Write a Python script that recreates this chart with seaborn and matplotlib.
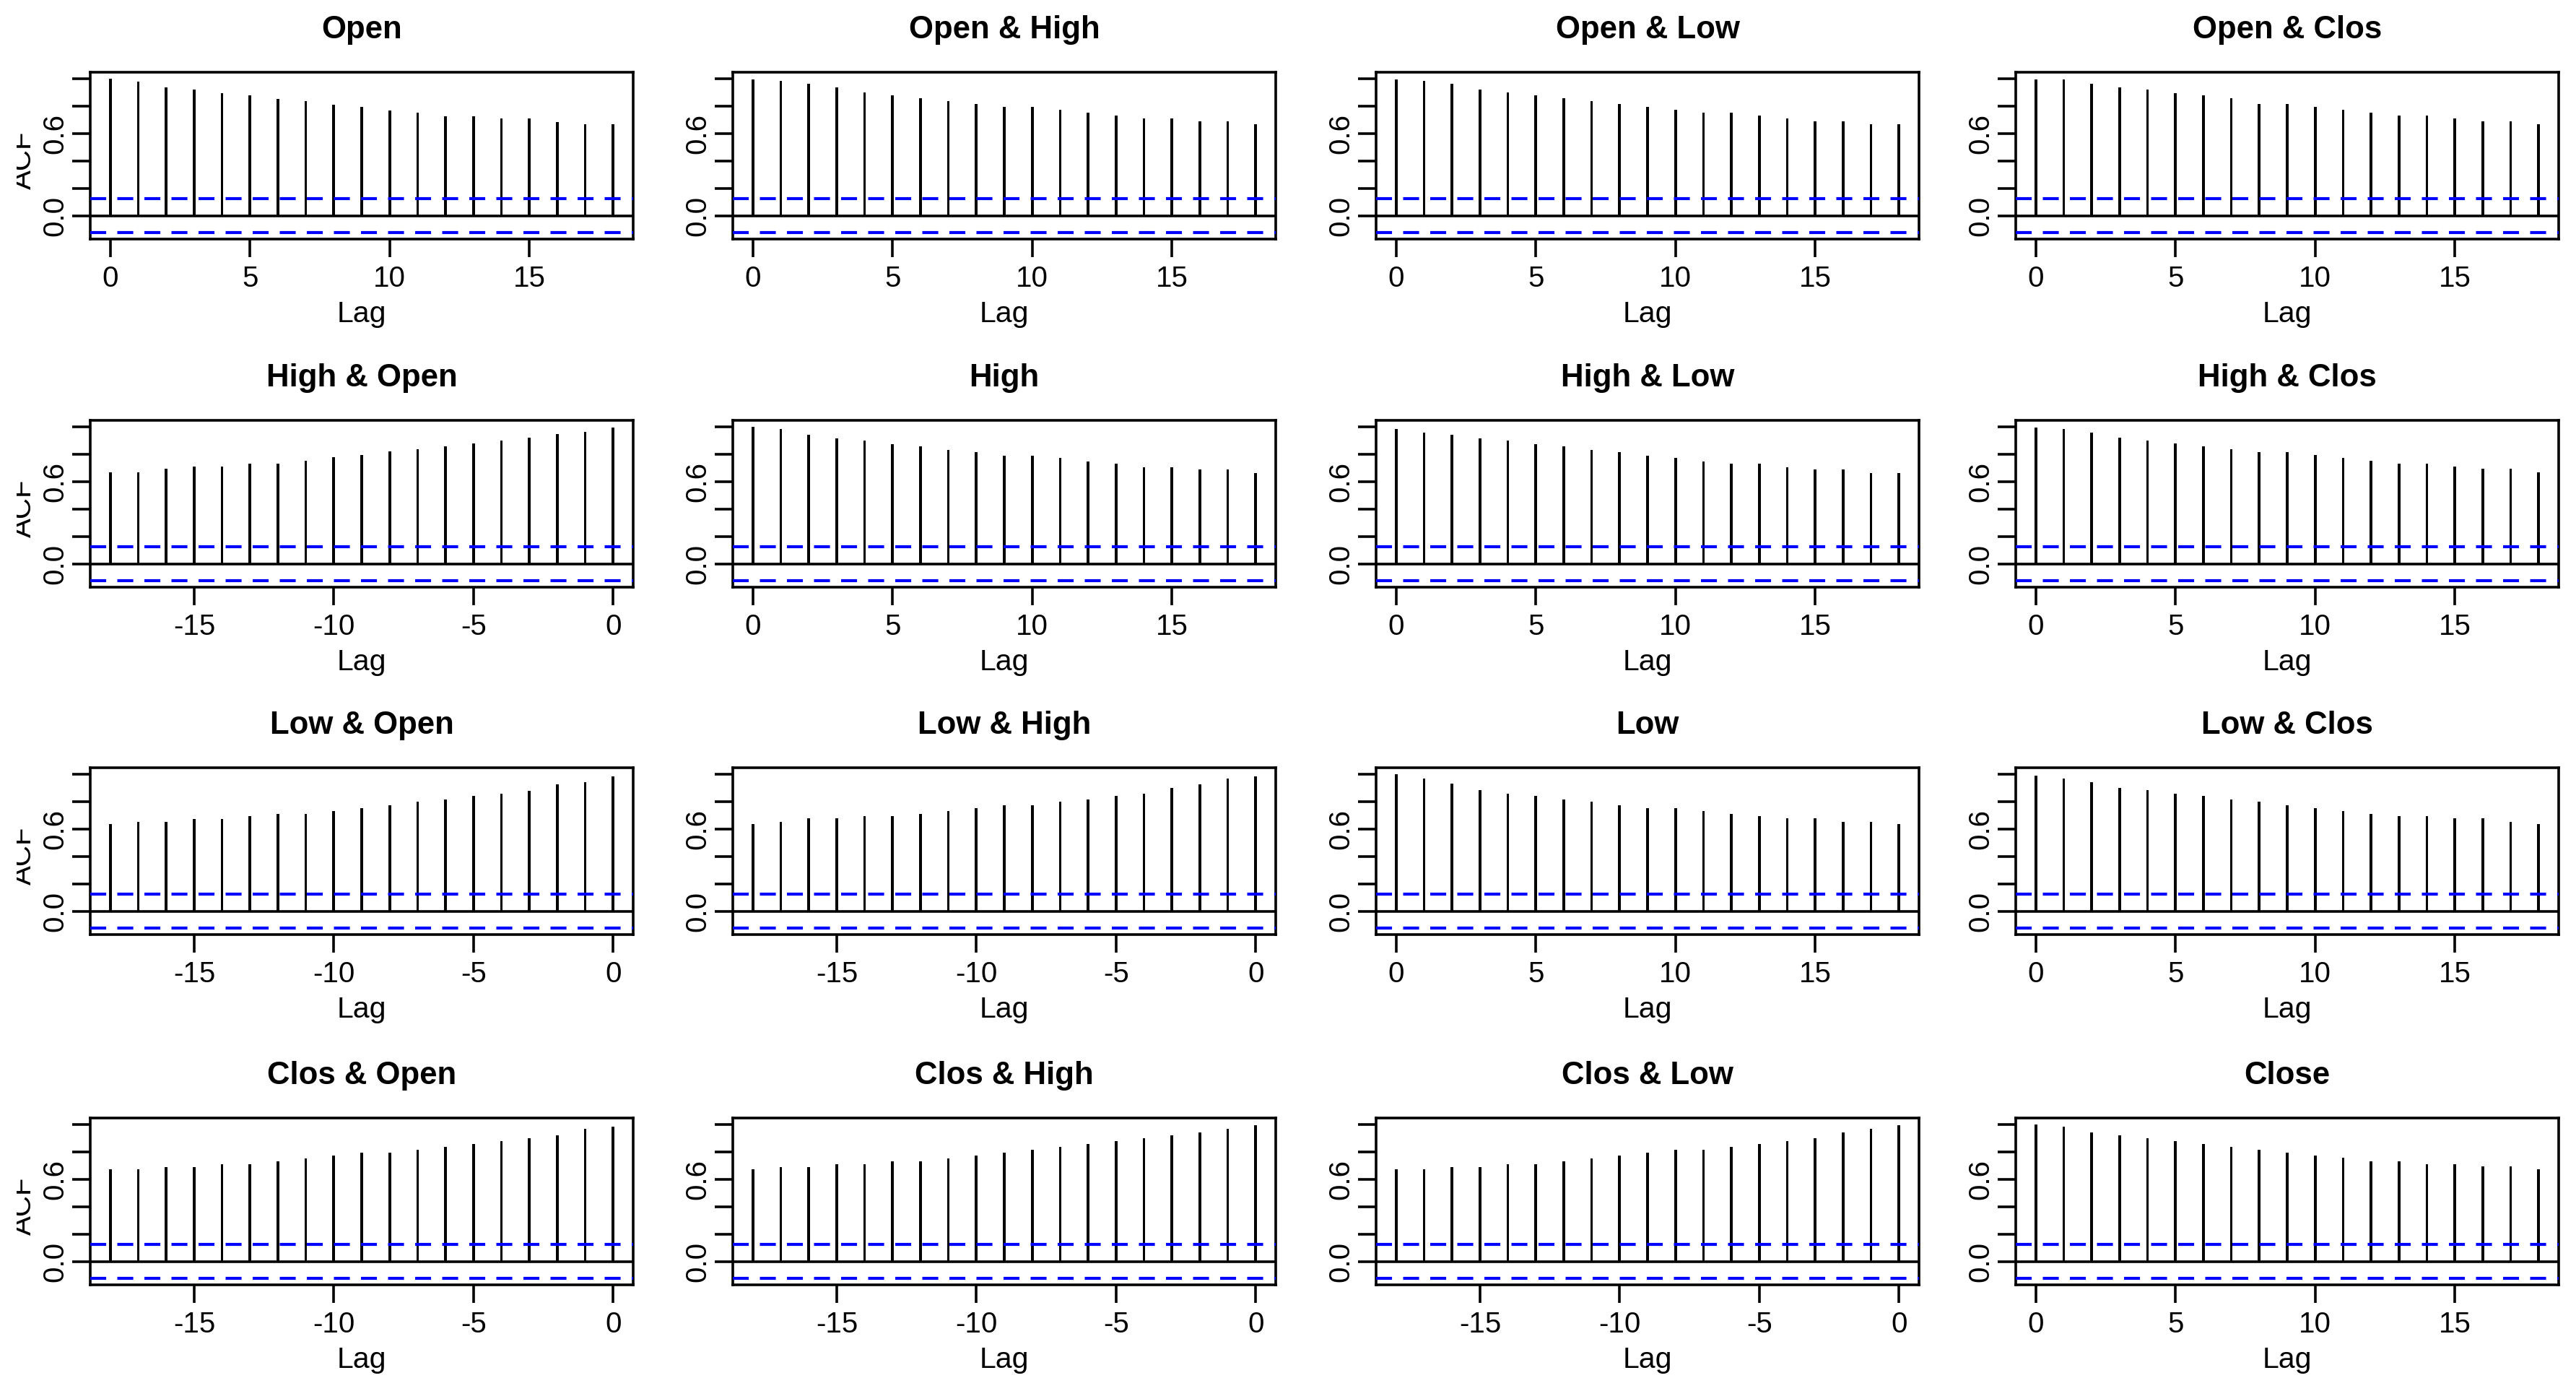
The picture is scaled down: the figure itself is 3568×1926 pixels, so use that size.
import numpy as np
import pandas as pd
import matplotlib
matplotlib.use("Agg")
import matplotlib.pyplot as plt
import seaborn as sns
from matplotlib.transforms import Bbox, TransformedBbox

# ---------------- data ----------------
lags_pos = list(range(0, 19))
lags_neg = list(range(-18, 1))

titles = ["Open", "Open & High", "Open & Low", "Open & Clos",
          "High & Open", "High", "High & Low", "High & Clos",
          "Low & Open", "Low & High", "Low", "Low & Clos",
          "Clos & Open", "Clos & High", "Clos & Low", "Close"]

acf_open = [1.0, 0.976, 0.936, 0.917, 0.892, 0.875, 0.851, 0.835, 0.809, 0.791,
            0.767, 0.750, 0.725, 0.725, 0.708, 0.708, 0.684, 0.666, 0.666]
acf_open_high = [0.995, 0.980, 0.962, 0.936, 0.896, 0.878, 0.854, 0.836, 0.812, 0.794,
                 0.794, 0.770, 0.752, 0.728, 0.710, 0.710, 0.685, 0.685, 0.668]
acf_open_low = [0.995, 0.980, 0.962, 0.918, 0.896, 0.878, 0.854, 0.836, 0.812, 0.794,
                0.770, 0.752, 0.752, 0.728, 0.710, 0.685, 0.685, 0.668, 0.668]
acf_open_clos = [0.995, 0.995, 0.962, 0.936, 0.918, 0.892, 0.878, 0.854, 0.812, 0.812,
                 0.794, 0.770, 0.752, 0.728, 0.728, 0.710, 0.685, 0.685, 0.668]

acf_high_open = [0.666, 0.666, 0.692, 0.709, 0.709, 0.730, 0.730, 0.751, 0.775, 0.792,
                 0.817, 0.834, 0.858, 0.876, 0.900, 0.917, 0.943, 0.959, 0.995]
acf_high = [1.0, 0.982, 0.941, 0.915, 0.898, 0.873, 0.856, 0.831, 0.814, 0.789,
            0.789, 0.772, 0.747, 0.730, 0.705, 0.705, 0.688, 0.688, 0.663]
acf_high_low = [0.982, 0.957, 0.940, 0.915, 0.898, 0.873, 0.856, 0.831, 0.814, 0.789,
                0.772, 0.747, 0.730, 0.730, 0.705, 0.688, 0.688, 0.663, 0.663]
acf_high_clos = [0.990, 0.980, 0.955, 0.917, 0.900, 0.875, 0.858, 0.833, 0.816, 0.816,
                 0.790, 0.774, 0.750, 0.732, 0.732, 0.708, 0.690, 0.690, 0.666]

acf_low_open = [0.634, 0.648, 0.648, 0.674, 0.674, 0.690, 0.711, 0.711, 0.732, 0.752,
                0.773, 0.798, 0.815, 0.840, 0.857, 0.878, 0.924, 0.941, 0.983]
acf_low_high = [0.634, 0.648, 0.676, 0.676, 0.690, 0.690, 0.711, 0.732, 0.752, 0.773,
                0.773, 0.798, 0.815, 0.840, 0.857, 0.899, 0.924, 0.966, 0.983]
acf_low = [1.0, 0.966, 0.927, 0.882, 0.857, 0.840, 0.815, 0.798, 0.773, 0.752,
           0.752, 0.732, 0.711, 0.690, 0.676, 0.676, 0.648, 0.648, 0.634]
acf_low_clos = [0.987, 0.966, 0.941, 0.899, 0.882, 0.857, 0.840, 0.815, 0.798, 0.773,
                0.752, 0.732, 0.711, 0.690, 0.690, 0.676, 0.676, 0.648, 0.634]

acf_clos_open = [0.673, 0.673, 0.686, 0.686, 0.711, 0.711, 0.732, 0.752, 0.770, 0.794,
                 0.794, 0.815, 0.836, 0.857, 0.877, 0.898, 0.919, 0.964, 0.982]
acf_clos_high = [0.673, 0.686, 0.686, 0.711, 0.711, 0.732, 0.732, 0.752, 0.773, 0.794,
                 0.811, 0.836, 0.857, 0.877, 0.898, 0.919, 0.940, 0.964, 0.990]
acf_clos_low = [0.669, 0.673, 0.686, 0.686, 0.711, 0.711, 0.732, 0.752, 0.770, 0.794,
                0.811, 0.811, 0.836, 0.857, 0.877, 0.898, 0.940, 0.964, 0.990]
acf_close = [1.0, 0.982, 0.940, 0.919, 0.898, 0.877, 0.857, 0.836, 0.815, 0.794,
             0.773, 0.756, 0.732, 0.732, 0.711, 0.711, 0.690, 0.690, 0.669]

panel_values = [acf_open, acf_open_high, acf_open_low, acf_open_clos,
                acf_high_open, acf_high, acf_high_low, acf_high_clos,
                acf_low_open, acf_low_high, acf_low, acf_low_clos,
                acf_clos_open, acf_clos_high, acf_clos_low, acf_close]

conf_limit = 0.125
ytick_values = [0.0, 0.2, 0.4, 0.6, 0.8, 1.0]
ytick_labels = ["0.0", "", "", "0.6", "", ""]
xticks_pos = [0, 5, 10, 15]
xticks_neg = [-15, -10, -5, 0]

# ---------------- style / layout ----------------
sns.set_theme(style="white")
plt.rcParams["font.family"] = ["Liberation Sans", "DejaVu Sans"]

W, H = 3568, 1926
fig = plt.figure(figsize=(W / 100, H / 100), dpi=100)
fig.patch.set_facecolor("white")

col_left = [125, 1015, 1906, 2792]
row_top = [100, 582, 1063, 1548]
aw, ah = 752, 231
LW = 2.6

for idx, (title, vals) in enumerate(zip(titles, panel_values)):
    r, c = divmod(idx, 4)
    negative = c < r
    lags = lags_neg if negative else lags_pos
    l, t = col_left[c], row_top[r]
    ax = fig.add_axes([l / W, 1 - (t + ah) / H, aw / W, ah / H])
    df = pd.DataFrame({"lag": lags, "acf": vals})
    sns.barplot(data=df, x="lag", y="acf", native_scale=True, width=0.095,
                color="black", saturation=1, linewidth=0, errorbar=None, ax=ax)
    ax.axhline(0, color="black", lw=LW, zorder=3)
    for cl in (conf_limit, -conf_limit):
        ax.axhline(cl, color="#0000ff", lw=3.0, ls=(0, (5.3, 3.7)), zorder=4)

    lo, hi = min(lags), max(lags)
    ext = 0.04 * (hi - lo)
    ax.set_xlim(lo - ext, hi + ext)
    yr = 1.0 + conf_limit
    ax.set_ylim(-conf_limit - 0.04 * yr, 1.0 + 0.04 * yr)

    xt = xticks_neg if negative else xticks_pos
    ax.set_xticks(xt)
    ax.set_xticklabels([str(v) for v in xt])
    ax.set_yticks(ytick_values)
    ax.set_yticklabels(ytick_labels, rotation=90, va="center")

    ax.tick_params(axis="both", which="major", direction="out", length=18,
                   width=LW, color="black", labelsize=29, labelcolor="black",
                   bottom=True, left=True)
    ax.tick_params(axis="x", pad=8)
    ax.tick_params(axis="y", pad=3)

    for sp in ax.spines.values():
        sp.set_visible(True)
        sp.set_color("black")
        sp.set_linewidth(LW)

    ax.set_xlabel("Lag", fontsize=29.5, color="black")
    ax.xaxis.set_label_coords(0.5, -0.366)
    ax.set_ylabel("")
    ax.set_title(title, fontsize=31.5, fontweight="bold", pad=34, color="black")

    if c == 0:
        cy = 1 - (t + ah / 2 + 6) / H
        txt = fig.text(43 / W, cy, "ACF", rotation=90, rotation_mode="anchor",
                       ha="center", va="baseline", fontsize=29, color="black")
        clip = TransformedBbox(Bbox.from_extents(23 / W, 0, 1, 1), fig.transFigure)
        txt.set_clip_box(clip)
        txt.set_clip_on(True)

fig.savefig("out.png", dpi=100, facecolor="white")
